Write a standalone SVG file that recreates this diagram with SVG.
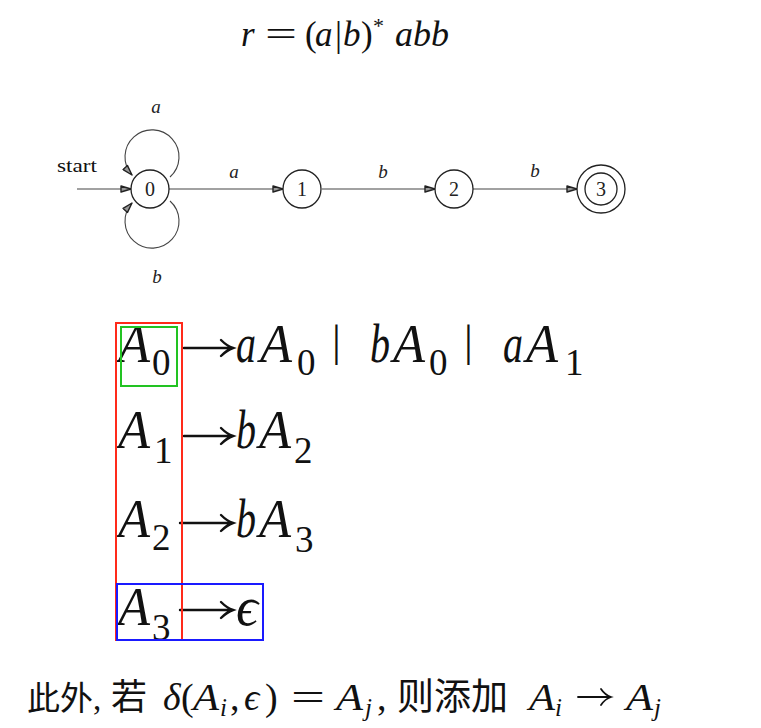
<svg xmlns="http://www.w3.org/2000/svg" width="761" height="728" viewBox="0 0 761 728">
<style>
  .m { font-family: "Liberation Serif", "DejaVu Serif", serif; font-style: italic; fill: #111; }
  .u { font-family: "Liberation Serif", "DejaVu Serif", serif; font-style: normal; fill: #111; }
  .cjk { font-family: "Liberation Serif", "Noto Sans CJK SC", sans-serif; fill: #111; }
  .node { fill: #fff; stroke: #222; stroke-width: 1.3; }
  .edge { fill: none; stroke: #444; stroke-width: 1.1; }
  .nl { font-family: "Liberation Serif", "DejaVu Serif", serif; font-size: 20px; fill: #222; text-anchor: middle; }
  .el { font-family: "Liberation Serif", "DejaVu Serif", serif; font-style: italic; font-size: 19px; fill: #222; text-anchor: middle; }
  .big { font-size: 54px; }
  .sub { font-size: 37px; font-style: normal; }
  .bar { font-size: 44px; font-style: normal; }
  .prod { fill: none; stroke: #111; stroke-width: 2.4; stroke-linecap: round; }
  .box { fill: none; stroke-width: 2; }
</style>
<defs>
  <marker id="ah" viewBox="0 0 12 8" refX="11" refY="4" markerWidth="12" markerHeight="8" markerUnits="userSpaceOnUse" orient="auto">
    <path d="M1,1 L11,4 L1,7 Z" fill="#999" stroke="#222" stroke-width="1.4" stroke-linejoin="round"/>
  </marker>
</defs>
<rect width="761" height="728" fill="#fff"/>

<!-- title formula -->
<g id="formula">
  <text class="m" font-size="35" x="241" y="46">r</text>
  <text class="u" font-size="35" x="265" y="46" textLength="32" lengthAdjust="spacingAndGlyphs">=</text>
  <text class="u" font-size="35" x="305" y="46">(</text>
  <text class="m" font-size="35" x="315" y="46">a</text>
  <text class="u" font-size="35" x="335" y="46">|</text>
  <text class="m" font-size="35" x="343" y="46">b</text>
  <text class="u" font-size="35" x="361" y="46">)</text>
  <text class="u" font-size="22" x="373" y="33">*</text>
  <text class="m" font-size="35" x="395" y="46" textLength="54" lengthAdjust="spacingAndGlyphs">abb</text>
</g>

<!-- DFA connectors -->
<g id="connectors">
  <line class="edge" x1="77" y1="189" x2="131" y2="189" marker-end="url(#ah)"/>
  <path class="edge" d="M170,177 A27,27 0 1 0 132,175" marker-end="url(#ah)"/>
  <path class="edge" d="M170,201 A27,27 0 1 1 132,203" marker-end="url(#ah)"/>
  <line class="edge" x1="169" y1="189" x2="283" y2="189" marker-end="url(#ah)"/>
  <line class="edge" x1="322" y1="189" x2="435" y2="189" marker-end="url(#ah)"/>
  <line class="edge" x1="473" y1="189" x2="577" y2="189" marker-end="url(#ah)"/>
  <text class="u" font-size="18" x="57" y="172" textLength="40" lengthAdjust="spacingAndGlyphs">start</text>
  <text class="el" x="156" y="113">a</text>
  <text class="el" x="157" y="283">b</text>
  <text class="el" x="234" y="178">a</text>
  <text class="el" x="383" y="178">b</text>
  <text class="el" x="535" y="177">b</text>
</g>

<g id="state0">
  <circle class="node" cx="150" cy="189" r="19"/>
  <text class="nl" x="150" y="196">0</text>
</g>
<g id="state1">
  <circle class="node" cx="302" cy="189" r="19"/>
  <text class="nl" x="302" y="196">1</text>
</g>
<g id="state2">
  <circle class="node" cx="454" cy="189" r="19"/>
  <text class="nl" x="454" y="196">2</text>
</g>
<g id="state3">
  <circle class="node" cx="601" cy="189" r="24"/>
  <circle class="node" cx="601" cy="189" r="16"/>
  <text class="nl" x="601" y="196">3</text>
</g>

<!-- productions -->
<g id="prod0">
  <text class="m big" x="118" y="362" textLength="32" lengthAdjust="spacingAndGlyphs">A</text>
  <text class="u sub" x="152" y="375">0</text>
  <path class="prod" d="M184,348 H231 M221,340 Q227,346 233,348 Q227,350 221,356"/>
  <text class="m big" x="236" y="362" textLength="20" lengthAdjust="spacingAndGlyphs">a</text>
  <text class="m big" x="260" y="362" textLength="32" lengthAdjust="spacingAndGlyphs">A</text>
  <text class="u sub" x="297" y="375">0</text>
  <text class="u bar" x="332" y="356">|</text>
  <text class="m big" x="370" y="362" textLength="20" lengthAdjust="spacingAndGlyphs">b</text>
  <text class="m big" x="393" y="362" textLength="32" lengthAdjust="spacingAndGlyphs">A</text>
  <text class="u sub" x="429" y="375">0</text>
  <text class="u bar" x="464" y="356">|</text>
  <text class="m big" x="503" y="362" textLength="20" lengthAdjust="spacingAndGlyphs">a</text>
  <text class="m big" x="526" y="362" textLength="32" lengthAdjust="spacingAndGlyphs">A</text>
  <text class="u sub" x="565" y="375">1</text>
</g>
<g id="prod1">
  <text class="m big" x="118" y="448" textLength="32" lengthAdjust="spacingAndGlyphs">A</text>
  <text class="u sub" x="154" y="463">1</text>
  <path class="prod" d="M184,436 H231 M221,428 Q227,434 233,436 Q227,438 221,444"/>
  <text class="m big" x="236" y="448" textLength="20" lengthAdjust="spacingAndGlyphs">b</text>
  <text class="m big" x="259" y="448" textLength="32" lengthAdjust="spacingAndGlyphs">A</text>
  <text class="u sub" x="294" y="463">2</text>
</g>
<g id="prod2">
  <text class="m big" x="118" y="537" textLength="32" lengthAdjust="spacingAndGlyphs">A</text>
  <text class="u sub" x="152" y="550">2</text>
  <path class="prod" d="M180,523 H231 M221,515 Q227,521 233,523 Q227,525 221,531"/>
  <text class="m big" x="236" y="537" textLength="20" lengthAdjust="spacingAndGlyphs">b</text>
  <text class="m big" x="259" y="537" textLength="32" lengthAdjust="spacingAndGlyphs">A</text>
  <text class="u sub" x="295" y="552">3</text>
</g>
<g id="prod3">
  <text class="m big" x="118" y="625" textLength="32" lengthAdjust="spacingAndGlyphs">A</text>
  <text class="u sub" x="152" y="640">3</text>
  <path class="prod" d="M180,610 H231 M221,602 Q227,608 233,610 Q227,612 221,618"/>
  <text class="m big" x="236" y="625" textLength="22" lengthAdjust="spacingAndGlyphs">ϵ</text>
</g>

<!-- highlight boxes -->
<g id="boxes">
  <rect class="box" x="116" y="323" width="66" height="317" stroke="#ff2a1a"/>
  <rect class="box" x="121" y="327" width="56" height="59" stroke="#22c322"/>
  <rect class="box" x="117" y="584" width="146" height="56" stroke="#1a1aff"/>
</g>

<!-- bottom sentence -->
<g id="note">
  <text class="cjk" font-size="33" x="27" y="710">此外,</text>
  <text class="cjk" font-size="36" x="111" y="710">若</text>
  <text class="m" font-size="38" x="163" y="710">δ</text>
  <text class="u" font-size="38" x="181" y="710">(</text>
  <text class="m" font-size="38" x="193" y="710" textLength="26" lengthAdjust="spacingAndGlyphs">A</text>
  <text class="m" font-size="25" x="220" y="716">i</text>
  <text class="u" font-size="38" x="230" y="710">,</text>
  <text class="m" font-size="38" x="244" y="710">ϵ</text>
  <text class="u" font-size="38" x="265" y="710">)</text>
  <text class="u" font-size="38" x="291" y="710" textLength="34" lengthAdjust="spacingAndGlyphs">=</text>
  <text class="m" font-size="38" x="336" y="710" textLength="27" lengthAdjust="spacingAndGlyphs">A</text>
  <text class="m" font-size="25" x="365" y="716">j</text>
  <text class="u" font-size="38" x="377" y="710">,</text>
  <text class="cjk" font-size="37" x="397" y="710">则添加</text>
  <text class="m" font-size="38" x="529" y="710" textLength="26" lengthAdjust="spacingAndGlyphs">A</text>
  <text class="m" font-size="25" x="555" y="716">i</text>
  <path fill="none" stroke="#111" stroke-width="1.8" stroke-linecap="round" d="M578,697 H610 M601,689 Q605,695 611,697 Q605,699 601,705"/>
  <text class="m" font-size="38" x="626" y="710" textLength="27" lengthAdjust="spacingAndGlyphs">A</text>
  <text class="m" font-size="25" x="654" y="716">j</text>
</g>
</svg>
